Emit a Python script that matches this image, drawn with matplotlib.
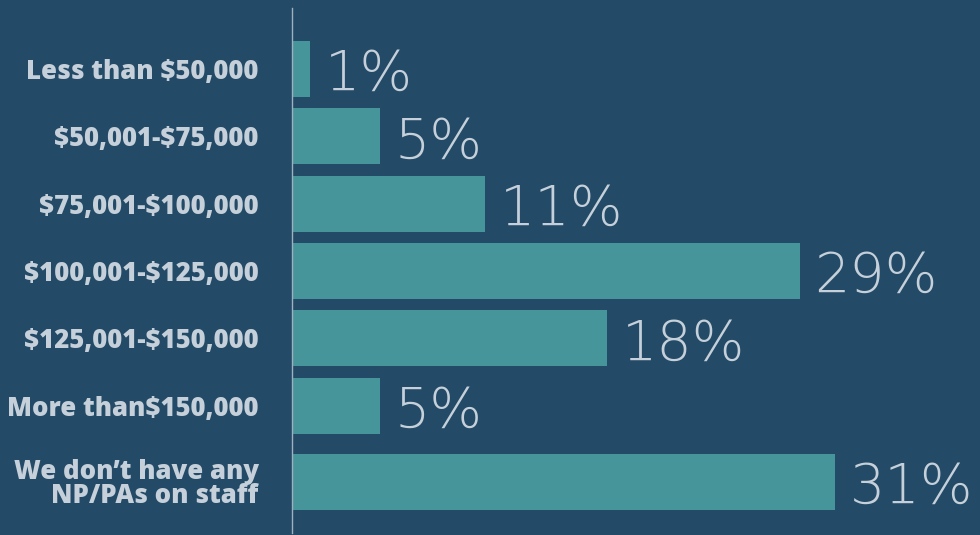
import numpy as np
import matplotlib
matplotlib.use("Agg")
import matplotlib.pyplot as plt

plt.rcParams["text.parse_math"] = False

categories = ["Less than $50,000", "$50,001-$75,000", "$75,001-$100,000",
              "$100,001-$125,000", "$125,001-$150,000", "More than$150,000",
              "We don\u2019t have any\nNP/PAs on staff"]
values = [1, 5, 11, 29, 18, 5, 31]

BG = "#234a66"
BAR = "#45959a"
TXT = "#c5d0da"

# last row sits a bit lower (two-line label)
pos = np.arange(len(categories), dtype=float)
pos[-1] += 0.13

fig = plt.figure(figsize=(9.8, 5.35), dpi=100, facecolor=BG)
ax = fig.add_axes([292 / 980, 2 / 535, 1 - 292 / 980, 525 / 535])
ax.set_facecolor(BG)
ax.barh(pos, values, height=0.83, color=BAR, edgecolor="none")
ax.set_xlim(0, 39.3)
ax.set_ylim(6.89, -0.906)

for v, y in zip(values, pos):
    ax.text(v + 0.85, y, f"{v}%", va="center_baseline", ha="left",
            fontsize=40, color=TXT, family="DejaVu Sans", fontweight="light")

ax.set_yticks(pos)
ax.set_yticklabels(categories, fontsize=18.5, color=TXT, family="Open Sans",
                   fontweight="heavy", linespacing=0.9)
ax.tick_params(axis="y", length=0, pad=24)
ax.set_xticks([])
for s in ["top", "right", "bottom"]:
    ax.spines[s].set_visible(False)
ax.spines["left"].set_color("#9fb0bf")
ax.spines["left"].set_linewidth(1.0)

fig.savefig("out.png", dpi=100, facecolor=BG)
